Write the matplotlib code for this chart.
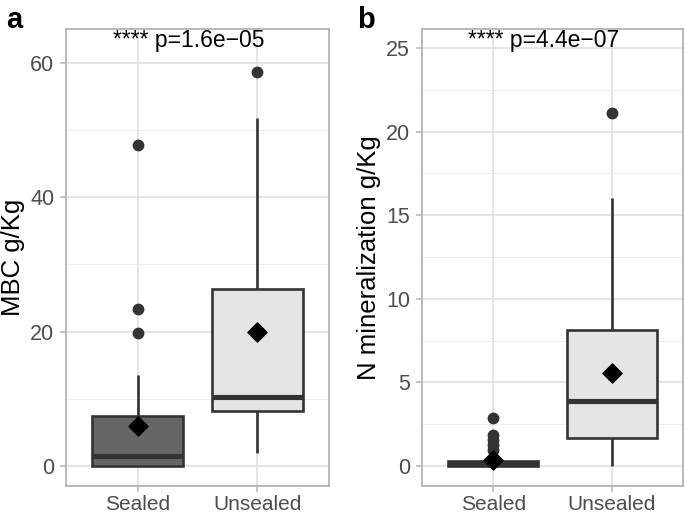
import matplotlib
matplotlib.use("Agg")
import matplotlib.pyplot as plt

plt.rcParams['font.family'] = ['Liberation Sans', 'DejaVu Sans']

groups = ["Sealed", "Unsealed"]
fills = ["#666666", "#e5e5e5"]

# panel a: MBC g/Kg
mbc_q1 = [0.0, 8.2]
mbc_med = [1.5, 10.3]
mbc_q3 = [7.5, 26.4]
mbc_lo = [0.0, 1.9]
mbc_hi = [13.6, 51.8]
mbc_mean = [6.0, 19.9]
mbc_out = [[19.8, 23.3, 47.8], [58.7]]

# panel b: N mineralization g/Kg
nmin_q1 = [0.0, 1.67]
nmin_med = [0.12, 3.89]
nmin_q3 = [0.28, 8.13]
nmin_lo = [0.0, 0.0]
nmin_hi = [0.6, 16.0]
nmin_mean = [0.36, 5.56]
nmin_out = [[0.95, 1.25, 1.55, 1.85, 2.85], [21.1]]

W, H = 685, 516
fig = plt.figure(figsize=(W / 100, H / 100), dpi=100)


def panel(left, right, q1, med, q3, lo, hi, mean, out, ylim, major, minor,
          ylabel, ptext, letter, letter_x):
    ax = fig.add_axes([left / W, (H - 486) / H, (right - left) / W, 457 / H])
    stats = []
    for i in range(len(groups)):
        stats.append(dict(q1=q1[i], med=med[i], q3=q3[i], whislo=lo[i],
                          whishi=hi[i], fliers=out[i], label=groups[i]))
    bp = ax.bxp(stats, positions=[1, 2], widths=0.76, patch_artist=True,
                showcaps=False, zorder=3,
                boxprops=dict(edgecolor="#333333", linewidth=1.9),
                whiskerprops=dict(color="#333333", linewidth=1.9,
                                  solid_capstyle='butt'),
                medianprops=dict(color="#333333", linewidth=3.7,
                                 solid_capstyle='butt'),
                flierprops=dict(marker='o', markerfacecolor="#333333",
                                markeredgecolor="#333333", markersize=7.5))
    for patch, c in zip(bp['boxes'], fills):
        patch.set_facecolor(c)
    ax.scatter([1, 2], mean, marker='D', s=95, color='black', zorder=5)

    ax.set_xlim(0.4, 2.6)
    ax.set_ylim(*ylim)
    ax.set_yticks(major)
    ax.set_yticks(minor, minor=True)
    ax.set_xticks([1, 2])
    ax.set_xticklabels(groups)
    ax.grid(True, which='major', color='#dedede', linewidth=1.1, zorder=0)
    ax.grid(True, which='minor', axis='y', color='#ececec', linewidth=0.7,
            zorder=0)
    ax.set_axisbelow(True)
    for s in ax.spines.values():
        s.set_color('#b3b3b3')
        s.set_linewidth(1.3)
    ax.tick_params(which='major', colors='#b3b3b3', labelcolor='#4d4d4d',
                   length=4.5, width=1.1)
    ax.tick_params(axis='y', labelsize=15.5, pad=4)
    ax.tick_params(axis='x', labelsize=15, pad=2)
    ax.tick_params(which='minor', length=0)
    ax.set_ylabel(ylabel, fontsize=18.5, labelpad=4)
    ax.text(0.466, 0.974, ptext, transform=ax.transAxes, ha='center',
            va='center', fontsize=16.5)
    fig.text(letter_x / W, 1 - 28 / H, letter, fontsize=21,
             fontweight='bold', va='baseline')
    return ax


panel(66, 329, mbc_q1, mbc_med, mbc_q3, mbc_lo, mbc_hi, mbc_mean, mbc_out,
      (-2.98, 65.06), [0, 20, 40, 60], [10, 30, 50], "MBC g/Kg",
      "**** p=1.6e\u221205", "a", 6)
panel(422, 683, nmin_q1, nmin_med, nmin_q3, nmin_lo, nmin_hi, nmin_mean,
      nmin_out, (-1.2, 26.14), [0, 5, 10, 15, 20, 25],
      [2.5, 7.5, 12.5, 17.5, 22.5], "N mineralization g/Kg",
      "**** p=4.4e\u221207", "b", 357)

fig.savefig("out.png", dpi=100)
